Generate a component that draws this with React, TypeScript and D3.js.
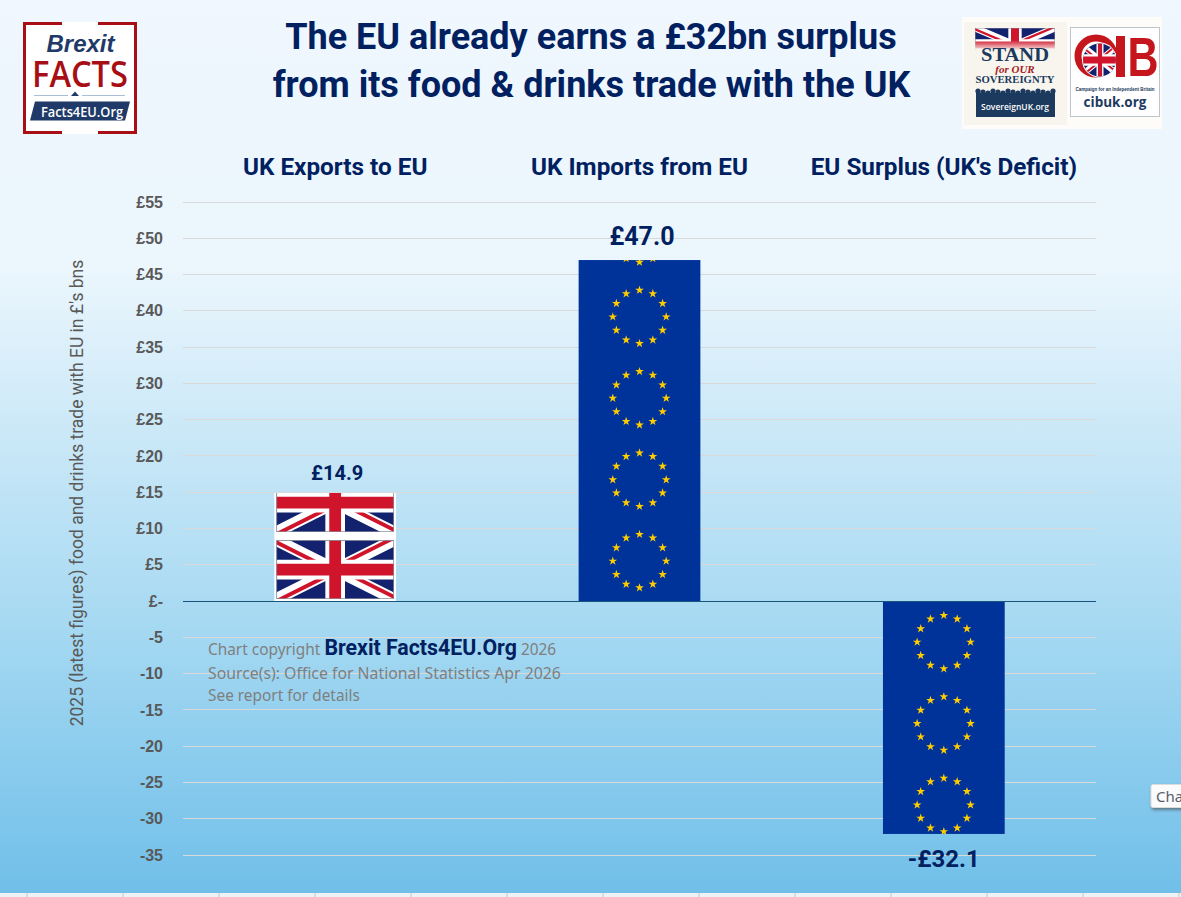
import { useEffect, useRef } from 'react'
import * as d3 from 'd3'

const categories = ['UK Exports to EU', 'UK Imports from EU', "EU Surplus (UK's Deficit)"]
const values = [14.9, 47.0, -32.1]
const valueLabels = ['£14.9', '£47.0', '-£32.1']
const flags = ['uk', 'eu', 'eu']
const tickValues = [55, 50, 45, 40, 35, 30, 25, 20, 15, 10, 5, 0, -5, -10, -15, -20, -25, -30, -35]
const rulerMarks = [27, 123, 219, 315, 411, 507, 603, 699, 795, 891, 987, 1083, 1179]

const NAVY = '#002060'
const GREY = '#595959'
const UI_FONT = 'Roboto, sans-serif'
const EU_TILE = 11.22 // value units per repeat of the flag picture
const UK_TILE = 9.23

const width = 1181
const height = 897

const y = d3.scaleLinear().domain([55, -35]).range([202, 855])
const x = d3.scaleBand().domain(categories).range([183, 1096]).paddingInner(0.6).paddingOuter(0.3)
const bandCentre = (c: string) => (x(c) as number) + x.bandwidth() / 2
const star = d3.symbol(d3.symbolStar, 24)()

function EuTile({ cx, cy }: { cx: number; cy: number }) {
  return (
    <g>
      {d3.range(12).map(i => {
        const a = (i * Math.PI) / 6
        return (
          <path
            key={i}
            d={star as string}
            fill="#ffcc00"
            transform={`translate(${cx + 26.7 * Math.sin(a)},${cy - 26.7 * Math.cos(a)})`}
          />
        )
      })}
    </g>
  )
}

function UnionJack({ x: fx, y: fy, w, h }: { x: number; y: number; w: number; h: number }) {
  return (
    <svg x={fx} y={fy} width={w} height={h} viewBox="0 0 60 30" preserveAspectRatio="none">
      <rect width="60" height="30" fill="#12226e" />
      <path d="M0,0L60,30M60,0L0,30" stroke="#fff" strokeWidth="6" />
      <path d="M0,0L60,30M60,0L0,30" stroke="#cf142b" strokeWidth="4" clipPath="url(#jack-pinwheel)" />
      <path d="M30,0V30M0,15H60" stroke="#fff" strokeWidth="10" />
      <path d="M30,0V30M0,15H60" stroke="#cf142b" strokeWidth="6" />
      <rect width="60" height="30" fill="none" stroke="#8b8b9b" strokeWidth="0.8" />
    </svg>
  )
}

function FlagBar({ category, value, flag, index }: { category: string; value: number; flag: string; index: number }) {
  const top = y(Math.max(value, 0))
  const bottom = y(Math.min(value, 0))
  const bx = x(category) as number
  const bw = x.bandwidth()
  const cx = bandCentre(category)
  const id = `bar-clip-${index}`
  if (flag === 'uk') {
    const tile = Math.abs(y(UK_TILE) - y(0))
    const fw = bw - 4
    return (
      <g>
        <clipPath id={id}>
          <rect x={bx} y={top} width={bw} height={bottom - top} />
        </clipPath>
        <rect x={bx} y={top} width={bw} height={bottom - top} fill="#fff" />
        <g clipPath={`url(#${id})`}>
          {d3.range(0, Math.ceil(value / UK_TILE)).map(i => (
            <UnionJack key={i} x={bx + 2} y={y(0) - 2 - (i + 1) * tile + 8} w={fw} h={tile - 8} />
          ))}
        </g>
      </g>
    )
  }
  const tile = Math.abs(y(EU_TILE) - y(0))
  const count = Math.ceil(Math.abs(value) / EU_TILE)
  return (
    <g>
      <clipPath id={id}>
        <rect x={bx} y={top} width={bw} height={bottom - top} />
      </clipPath>
      <rect x={bx} y={top} width={bw} height={bottom - top} fill="#003399" />
      <g clipPath={`url(#${id})`}>
        {d3.range(count).map(i => (
          <EuTile key={i} cx={cx} cy={value > 0 ? y(0) - 40 - i * tile : y(0) + 41 + i * tile} />
        ))}
      </g>
    </g>
  )
}

function BrexitLogo() {
  return (
    <g>
      <rect x="23" y="22" width="114" height="112" fill="#fff" />
      <path d="M62,23.5H24.5V132.5H62M98,23.5H135.5V132.5H98" fill="none" stroke="#a80f14" strokeWidth="3" />
      <text x="80.5" y="52" textAnchor="middle" fontFamily="Liberation Sans" fontStyle="italic" fontWeight="700" fontSize="24" fill="#1f3a68">Brexit</text>
      <text x="80" y="87" textAnchor="middle" fontFamily="'Open Sans'" fontSize="36" fontWeight="600" fill="#a80f14" textLength="96" lengthAdjust="spacingAndGlyphs">FACTS</text>
      <path d="M34,95.5H68M82,95.5H125" stroke="#a9bdd6" strokeWidth="1" />
      <path d="M71,96L75,91.5L79,96Z" fill="#1f3a68" />
      <path d="M35,101.5H130L125,120.5H30Z" fill="#1f3a68" />
      <text x="82" y="117" textAnchor="middle" fontFamily="'Open Sans'" fontWeight="600" fontSize="14.5" fill="#fff" textLength="82" lengthAdjust="spacingAndGlyphs">Facts4EU.Org</text>
    </g>
  )
}

function SovereignLogo() {
  const heads = d3.range(16)
  return (
    <g>
      <rect x="962" y="17" width="200" height="112" fill="#fdfcf8" />
      <rect x="964" y="22" width="103" height="103" fill="#f8f5ee" />
      <UnionJack x={975} y={28} w={80} h={34} />
      <rect x="964" y="40" width="103" height="24" fill="url(#logo-fade)" />
      <text x="1015" y="61" textAnchor="middle" fontFamily="'Liberation Serif'" fontWeight="700" fontSize="19" fill="#1c3a5e" textLength="68" lengthAdjust="spacingAndGlyphs">STAND</text>
      <text x="1015" y="72.5" textAnchor="middle" fontFamily="'Liberation Serif'" fontStyle="italic" fontWeight="700" fontSize="11" fill="#a3211f">for OUR</text>
      <text x="1015" y="83" textAnchor="middle" fontFamily="'Liberation Serif'" fontWeight="700" fontSize="10" fill="#1c3a5e" textLength="79" lengthAdjust="spacingAndGlyphs">SOVEREIGNTY</text>
      <rect x="976" y="93" width="79" height="24" fill="#1c3a5e" />
      {heads.map(i => (
        <circle key={i} cx={978 + i * 5} cy={91 + (i % 3)} r="2.6" fill="#1c3a5e" />
      ))}
      <text x="1015" y="110" textAnchor="middle" fontFamily="'Open Sans'" fontWeight="600" fontSize="8.5" fill="#fff">SovereignUK.org</text>
    </g>
  )
}

function CibLogo() {
  return (
    <g>
      <rect x="1070.5" y="27.5" width="89" height="89" fill="#fff" stroke="#bcc4cc" strokeWidth="1" />
      <circle cx="1096" cy="56" r="18" fill="#fff" stroke="#c4161c" strokeWidth="7" />
      <clipPath id="roundel">
        <circle cx="1099.5" cy="60" r="16.5" />
      </clipPath>
      <circle cx="1099.5" cy="60" r="17.5" fill="#fff" />
      <g clipPath="url(#roundel)">
        <UnionJack x={1079} y={43} w={42} h={34} />
      </g>
      <path d="M1116,36h9v41h-9z" fill="#c4161c" />
      <text x="1143" y="76" textAnchor="middle" fontFamily="'Liberation Sans'" fontWeight="700" fontSize="55" fill="#c4161c" textLength="31" lengthAdjust="spacingAndGlyphs">B</text>
      <text x="1115" y="91" textAnchor="middle" fontFamily="'Liberation Sans'" fontSize="4.5" fontWeight="700" fill="#1c3a5e">Campaign for an Independent Britain</text>
      <text x="1115" y="107" textAnchor="middle" fontFamily="'Open Sans'" fontWeight="700" fontSize="13.5" fill="#1c3a5e">cibuk.org</text>
    </g>
  )
}

export default function App() {
  const axisRef = useRef<SVGGElement>(null)

  useEffect(() => {
    if (!axisRef.current) return
    const axis = d3.axisLeft(y)
      .tickValues(tickValues)
      .tickSize(0)
      .tickPadding(0)
      .tickFormat(d => {
        const v = d as number
        if (v === 0) return '£-'
        return v > 0 ? `£${v}` : `${v}`
      })
    const g = d3.select(axisRef.current).call(axis)
    g.select('.domain').remove()
    g.selectAll('text')
      .attr('font-family', 'Liberation Sans, sans-serif')
      .attr('font-weight', 700)
      .attr('font-size', 16)
      .attr('fill', GREY)
  }, [])

  return (
    <svg
      width={width}
      height={height}
      viewBox={`0 0 ${width} ${height}`}
      style={{ position: 'absolute', left: 0, top: 0, display: 'block' }}
    >
      <defs>
        <linearGradient id="page-bg" x1="0" y1="0" x2="0" y2="1">
          <stop offset="0" stopColor="#f0f7fe" />
          <stop offset="0.3" stopColor="#ebf6fd" />
          <stop offset="0.5" stopColor="#c8e7f7" />
          <stop offset="0.7" stopColor="#a6d9f2" />
          <stop offset="1" stopColor="#70bfe9" />
        </linearGradient>
        <linearGradient id="logo-fade" x1="0" y1="0" x2="0" y2="1">
          <stop offset="0" stopColor="#f8f5ee" stopOpacity="0" />
          <stop offset="0.45" stopColor="#f8f5ee" stopOpacity="1" />
          <stop offset="1" stopColor="#f8f5ee" stopOpacity="1" />
        </linearGradient>
        <clipPath id="jack-pinwheel">
          <path d="M30,15h30v15zv15h-30zh-30v-15zv-15h30z" />
        </clipPath>
        <filter id="tip-shadow" x="-20%" y="-20%" width="140%" height="160%">
          <feDropShadow dx="1" dy="2" stdDeviation="1.5" floodColor="#444" floodOpacity="0.6" />
        </filter>
      </defs>

      <rect width={width} height={893} fill="url(#page-bg)" />
      <rect y={893} width={width} height={4} fill="#eef2f5" />
      {rulerMarks.map(m => (
        <line key={m} x1={m} x2={m} y1={893} y2={897} stroke="#c6c6c6" />
      ))}

      <g fontFamily={UI_FONT} fontWeight={700} fill={NAVY} fontSize={36} textAnchor="middle">
        <text x={591} y={49}>The EU already earns a £32bn surplus</text>
        <text x={591.5} y={97}>from its food &amp; drinks trade with the UK</text>
      </g>

      <BrexitLogo />
      <SovereignLogo />
      <CibLogo />

      {categories.map(c => (
        <text key={c} x={bandCentre(c)} y={175} textAnchor="middle" fontFamily={UI_FONT} fontWeight={700} fontSize={24.3} fill={NAVY}>
          {c}
        </text>
      ))}

      {tickValues.filter(t => t !== 0).map(t => (
        <line key={t} x1={183} x2={1096} y1={y(t)} y2={y(t)} stroke="#d9d9d9" strokeWidth={1} shapeRendering="crispEdges" />
      ))}
      <g ref={axisRef} transform="translate(163,0)" />

      <text
        transform={`translate(83,493) rotate(-90)`}
        textAnchor="middle"
        fontFamily={UI_FONT}
        fontSize={17.5}
        fill={GREY}
      >
        2025 (latest figures) food and drinks trade with EU in £'s bns
      </text>

      {categories.map((c, i) => (
        <FlagBar key={c} category={c} value={values[i]} flag={flags[i]} index={i} />
      ))}
      <line x1={183} x2={1096} y1={y(0)} y2={y(0)} stroke="#17567a" strokeWidth={1} shapeRendering="crispEdges" />

      {categories.map((c, i) => (
        <text
          key={c}
          x={bandCentre(c) + (i === 0 ? 2 : i === 1 ? 2.5 : 0)}
          y={values[i] > 0 ? y(values[i]) - (i === 0 ? 13 : 15) : y(values[i]) + 33}
          textAnchor="middle"
          fontFamily={UI_FONT}
          fontWeight={700}
          fontSize={i === 0 ? 20 : i === 1 ? 25 : 24}
          fill={NAVY}
        >
          {valueLabels[i]}
        </text>
      ))}

      <g fontFamily="'Noto Sans', sans-serif" fontSize={15.4} fill="#7f7f7f">
        <text x={208} y={655}>
          Chart copyright{' '}
          <tspan fontFamily={UI_FONT} fontWeight={700} fontSize={21.3} fill={NAVY}>Brexit Facts4EU.Org</tspan>{' '}
          2026
        </text>
        <text x={208} y={679} fontSize={15.8}>Source(s): Office for National Statistics Apr 2026</text>
        <text x={208} y={701}>See report for details</text>
      </g>

      <g>
        <rect x={1151} y={784.5} width={40} height={23} rx={2} fill="#fbfbfb" stroke="#dcdcdc" filter="url(#tip-shadow)" />
        <text x={1156} y={802} fontFamily="'Noto Sans', sans-serif" fontSize={15} fill="#55606e">Cha</text>
      </g>
    </svg>
  )
}
